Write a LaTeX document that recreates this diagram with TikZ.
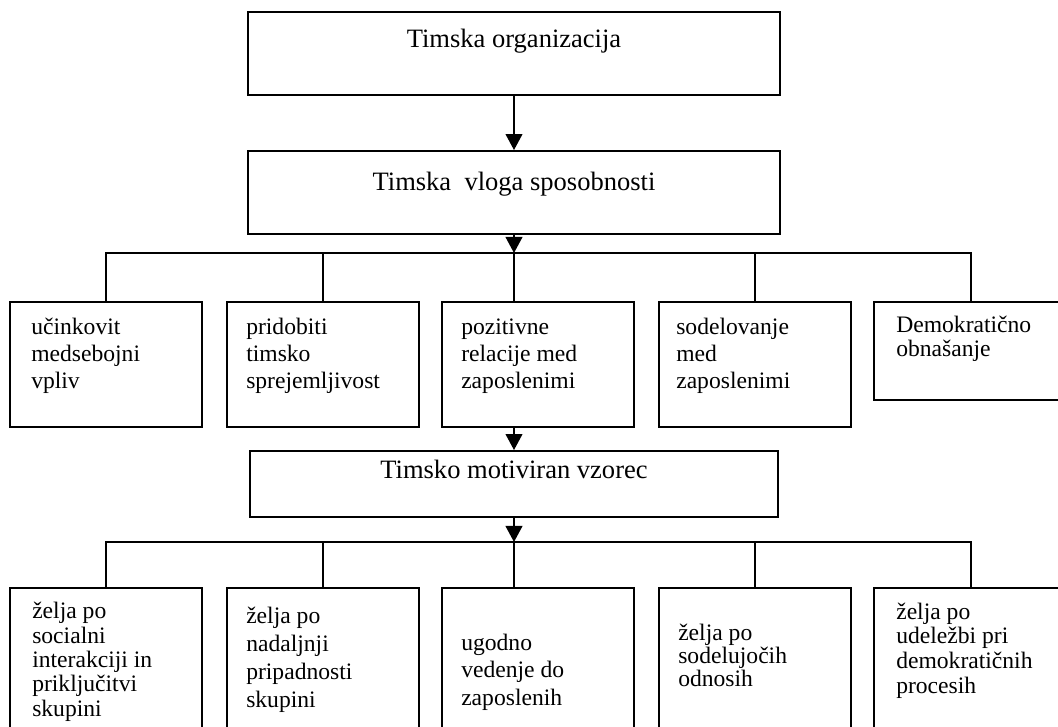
\documentclass[tikz,border=0pt]{standalone}
\usepackage{fontspec}
\setmainfont{Liberation Serif}
\usetikzlibrary{arrows.meta,fit}
\begin{document}
\begin{tikzpicture}[x=0.75pt,y=-0.75pt,
  box/.style={draw,line width=1.4pt,rectangle,inner sep=0pt},
  title/.style={font=\fontsize{19.9}{23}\selectfont,anchor=base,inner sep=0pt},
  % multi-line labels are placed by the baseline of their last line
  item/.style={anchor=base west,align=left,inner sep=0pt,font=\fontsize{17.7}{#1}\selectfont},
  link/.style={line width=1.4pt},
  arr/.style={link,-{Triangle[length=12pt,width=12.5pt]}}
]
\useasboundingbox (0,0) rectangle (1058,727);
\clip (0,0) rectangle (1058,727);

% main chain
\node[box,fit={(248,12) (780,95)}] (org) {};
\node[box,fit={(248,151) (780,234)}] (vloga) {};
\node[box,fit={(250,451) (778,517)}] (vzorec) {};
\node[title] (torg) at (514,48) {Timska organizacija};
\node[title] (tvloga) at (514,191) {Timska\ \ vloga sposobnosti};
\node[title] (tvzorec) at (514,479) {Timsko motiviran vzorec};

% first row of boxes
\node[box,fit={(10,302) (202,427)}] (ra) {};
\node[box,fit={(227,302) (419,427)}] (rb) {};
\node[box,fit={(442,302) (634,427)}] (rc) {};
\node[box,fit={(659,302) (851,427)}] (rd) {};
\node[box,fit={(874,302) (1068,400)}] (re) {};

\node[item=20.6pt] (ta) at (31,389) {učinkovit\\medsebojni\\vpliv};
\node[item=20.6pt] (tb) at (246,389) {pridobiti\\timsko\\sprejemljivost};
\node[item=20.6pt] (tc) at (461,389) {pozitivne\\relacije med\\zaposlenimi};
\node[item=20.6pt] (td) at (676,389) {sodelovanje\\med\\zaposlenimi};
\node[item=18pt] (te) at (896,357) {Demokratično\\obnašanje};

% second row of boxes
\node[box,fit={(10,588) (202,745)}] (sa) {};
\node[box,fit={(227,588) (419,745)}] (sb) {};
\node[box,fit={(442,588) (634,745)}] (sc) {};
\node[box,fit={(659,588) (851,745)}] (sd) {};
\node[box,fit={(874,588) (1068,745)}] (se) {};

\node[item=18.2pt] (ua) at (32,716) {želja po\\socialni\\interakciji in\\priključitvi\\skupini};
\node[item=21pt] (ub) at (246,707) {želja po\\nadaljnji\\pripadnosti\\skupini};
\node[item=20.6pt] (uc) at (461,705) {ugodno\\vedenje do\\zaposlenih};
\node[item=16.9pt] (ud) at (678,686) {želja po\\sodelujočih\\odnosih};
\node[item=18.5pt] (ue) at (896,693) {želja po\\udeležbi pri\\demokratičnih\\procesih};

% connectors
\coordinate (busa) at (514,253);
\coordinate (busb) at (514,542);

\draw[arr] (org) -- (vloga);
\draw[arr] (vloga) -- (busa);
\draw[link] (busa) -- (busa |- rc.north);
\draw[link] (ra.north) -- (ra.north |- busa) -- (re.north |- busa) -- (re.north);
\draw[link] (rb.north) -- (rb.north |- busa);
\draw[link] (rd.north) -- (rd.north |- busa);

\draw[arr] (vzorec.north |- rc.south) -- (vzorec.north);
\draw[arr] (vzorec) -- (busb);
\draw[link] (busb) -- (busb |- sc.north);
\draw[link] (sa.north) -- (sa.north |- busb) -- (se.north |- busb) -- (se.north);
\draw[link] (sb.north) -- (sb.north |- busb);
\draw[link] (sd.north) -- (sd.north |- busb);
\end{tikzpicture}
\end{document}
